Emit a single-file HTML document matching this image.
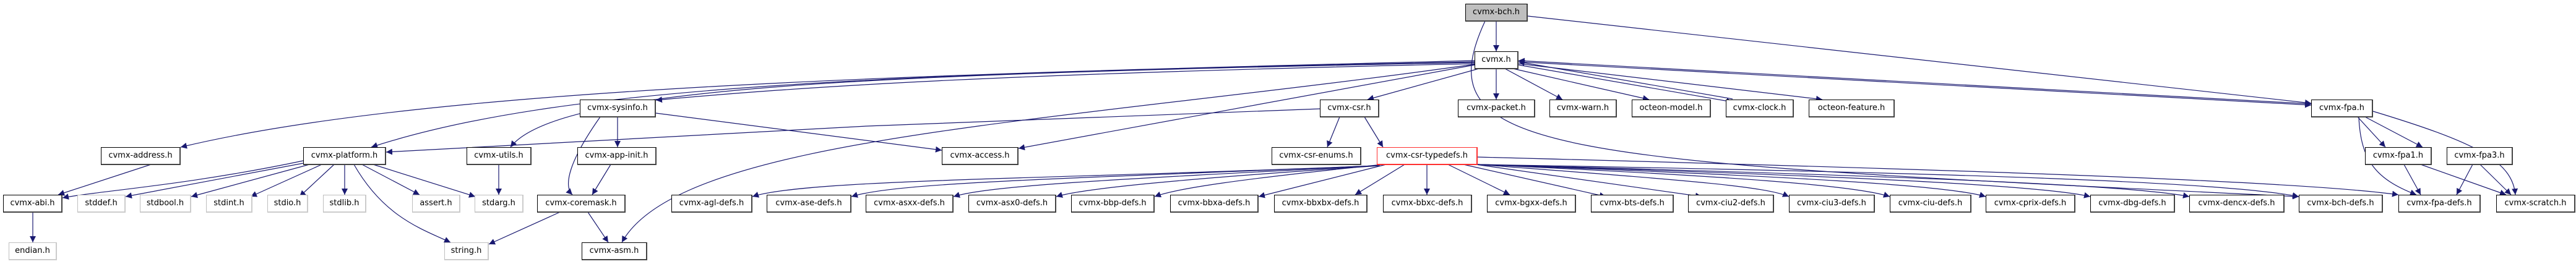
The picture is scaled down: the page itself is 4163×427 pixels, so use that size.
<!DOCTYPE html>
<html><head><meta charset="utf-8"><style>
html,body{margin:0;padding:0;background:#fff;width:4163px;height:427px;overflow:hidden;position:relative}
.n{position:absolute;box-sizing:border-box;background:#fff;border:1px solid #000;border-right:2px solid #444;border-bottom:2px solid #444;font:13px "DejaVu Sans","Liberation Sans",sans-serif;color:#000;text-align:center;line-height:26px;white-space:nowrap}
.g{border:1px solid #bfbfbf;border-right:2px solid #ccc;border-bottom:2px solid #ccc}
.r{border:1px solid #ff3030;border-right:2px solid #ff3030;border-bottom:2px solid #ff3030}
.root{background:#bfbfbf}
svg{position:absolute;left:0;top:0}
</style></head><body>
<svg width="4163" height="427" viewBox="0 0 4163 427">
<defs><marker id="a" viewBox="0 0 10 10" refX="10" refY="5" markerWidth="10" markerHeight="10" markerUnits="userSpaceOnUse" orient="auto"><path d="M0,0 L10,5 L0,10 z" fill="#191970"/></marker></defs>
<g fill="none" stroke="#191970" stroke-width="1.2" marker-end="url(#a)">
<path d="M2418,34 L2418,83"/>
<path d="M2469,26 L3735,167"/>
<path d="M2400,34 C2300,250 2500,260 3715,318"/>
<path d="M2383,98 C1500,120 700,140 292,238"/>
<path d="M2383,100 C1400,120 900,140 600,238"/>
<path d="M2383,101 C1400,120 900,140 825,238"/>
<path d="M2383,103 C1600,120 1300,140 1060,162"/>
<path d="M2383,104 C1700,200 1100,220 1005,392"/>
<path d="M2383,105 L1646,240"/>
<path d="M2390,111 L2210,161"/>
<path d="M2418,111 L2418,161"/>
<path d="M2432,111 L2525,161"/>
<path d="M2445,111 L2665,161"/>
<path d="M2454,105 L2800,165"/>
<path d="M2800,160 L2454,100"/>
<path d="M2454,103 L2945,161"/>
<path d="M2454,100 L3735,170"/>
<path d="M3735,168 L2454,98"/>
<path d="M998,189 L998,238"/>
<path d="M970,189 C920,260 910,300 925,315"/>
<path d="M1060,183 L1522,243"/>
<path d="M987,266 L957,315"/>
<path d="M2133,176 L1400,204 L624,246"/>
<path d="M2165,189 L2145,238"/>
<path d="M2205,189 L2235,238"/>
<path d="M244,266 L94,315"/>
<path d="M490,260 C300,300 150,310 101,320"/>
<path d="M490,264 L203,318"/>
<path d="M500,266 L309,318"/>
<path d="M520,266 L405,318"/>
<path d="M540,266 L484,318"/>
<path d="M557,266 L557,315"/>
<path d="M572,266 C620,350 680,370 728,392"/>
<path d="M585,266 L678,315"/>
<path d="M603,266 L768,318"/>
<path d="M806,266 L806,315"/>
<path d="M905,343 L790,395"/>
<path d="M950,343 L983,392"/>
<path d="M53,343 L53,392"/>
<path d="M2225,268 C1700,290 1300,290 1216,318"/>
<path d="M2225,268 C1700,290 1450,295 1376,318"/>
<path d="M2228,268 C1800,290 1600,300 1541,318"/>
<path d="M2230,268 C1900,290 1750,305 1707,318"/>
<path d="M2235,266 C2000,290 1900,305 1866,318"/>
<path d="M2240,266 L2034,318"/>
<path d="M2270,266 L2190,315"/>
<path d="M2306,266 L2306,315"/>
<path d="M2340,266 L2440,315"/>
<path d="M2365,266 L2595,318"/>
<path d="M2385,266 L2750,318"/>
<path d="M2388,266 C2700,290 2850,300 2891,318"/>
<path d="M2388,266 C2800,285 3000,300 3054,318"/>
<path d="M2388,266 C2900,285 3150,300 3209,318"/>
<path d="M2388,266 C3000,285 3300,300 3378,318"/>
<path d="M2388,266 C3100,285 3450,300 3538,318"/>
<path d="M2388,266 C3200,280 3600,295 3715,318"/>
<path d="M2388,254 C3000,270 3700,290 3876,315"/>
<path d="M3810,189 L3855,238"/>
<path d="M3822,189 L3915,238"/>
<path d="M3812,189 C3815,260 3840,290 3905,315"/>
<path d="M3835,180 C4000,230 4060,260 4065,315"/>
<path d="M3885,266 L3912,315"/>
<path d="M3912,266 L4050,315"/>
<path d="M3996,266 L3970,315"/>
<path d="M4008,266 L4058,315"/>
</g>
</svg>
<div class="n root" style="left:2368px;top:6px;width:101px;height:29px">cvmx-bch.h</div>
<div class="n" style="left:2383px;top:83px;width:71px;height:29px">cvmx.h</div>
<div class="n" style="left:937px;top:161px;width:123px;height:29px">cvmx-sysinfo.h</div>
<div class="n" style="left:2133px;top:161px;width:96px;height:29px">cvmx-csr.h</div>
<div class="n" style="left:2356px;top:161px;width:125px;height:29px">cvmx-packet.h</div>
<div class="n" style="left:2504px;top:161px;width:109px;height:29px">cvmx-warn.h</div>
<div class="n" style="left:2637px;top:161px;width:128px;height:29px">octeon-model.h</div>
<div class="n" style="left:2789px;top:161px;width:110px;height:29px">cvmx-clock.h</div>
<div class="n" style="left:2923px;top:161px;width:139px;height:29px">octeon-feature.h</div>
<div class="n" style="left:3735px;top:161px;width:100px;height:29px">cvmx-fpa.h</div>
<div class="n" style="left:163px;top:238px;width:129px;height:29px">cvmx-address.h</div>
<div class="n" style="left:490px;top:238px;width:134px;height:29px">cvmx-platform.h</div>
<div class="n" style="left:754px;top:238px;width:105px;height:29px">cvmx-utils.h</div>
<div class="n" style="left:933px;top:238px;width:128px;height:29px">cvmx-app-init.h</div>
<div class="n" style="left:1522px;top:238px;width:124px;height:29px">cvmx-access.h</div>
<div class="n" style="left:2055px;top:238px;width:145px;height:29px">cvmx-csr-enums.h</div>
<div class="n r" style="left:2225px;top:238px;width:163px;height:29px">cvmx-csr-typedefs.h</div>
<div class="n" style="left:3822px;top:238px;width:108px;height:29px">cvmx-fpa1.h</div>
<div class="n" style="left:3954px;top:238px;width:107px;height:29px">cvmx-fpa3.h</div>
<div class="n" style="left:5px;top:315px;width:96px;height:29px">cvmx-abi.h</div>
<div class="n g" style="left:125px;top:315px;width:78px;height:29px">stddef.h</div>
<div class="n g" style="left:226px;top:315px;width:83px;height:29px">stdbool.h</div>
<div class="n g" style="left:333px;top:315px;width:75px;height:29px">stdint.h</div>
<div class="n g" style="left:432px;top:315px;width:66px;height:29px">stdio.h</div>
<div class="n g" style="left:522px;top:315px;width:70px;height:29px">stdlib.h</div>
<div class="n g" style="left:666px;top:315px;width:78px;height:29px">assert.h</div>
<div class="n g" style="left:767px;top:315px;width:79px;height:29px">stdarg.h</div>
<div class="n" style="left:868px;top:315px;width:143px;height:29px">cvmx-coremask.h</div>
<div class="n" style="left:1085px;top:315px;width:131px;height:29px">cvmx-agl-defs.h</div>
<div class="n" style="left:1239px;top:315px;width:137px;height:29px">cvmx-ase-defs.h</div>
<div class="n" style="left:1399px;top:315px;width:142px;height:29px">cvmx-asxx-defs.h</div>
<div class="n" style="left:1565px;top:315px;width:142px;height:29px">cvmx-asx0-defs.h</div>
<div class="n" style="left:1731px;top:315px;width:135px;height:29px">cvmx-bbp-defs.h</div>
<div class="n" style="left:1891px;top:315px;width:143px;height:29px">cvmx-bbxa-defs.h</div>
<div class="n" style="left:2059px;top:315px;width:151px;height:29px">cvmx-bbxbx-defs.h</div>
<div class="n" style="left:2235px;top:315px;width:144px;height:29px">cvmx-bbxc-defs.h</div>
<div class="n" style="left:2403px;top:315px;width:144px;height:29px">cvmx-bgxx-defs.h</div>
<div class="n" style="left:2571px;top:315px;width:134px;height:29px">cvmx-bts-defs.h</div>
<div class="n" style="left:2728px;top:315px;width:139px;height:29px">cvmx-ciu2-defs.h</div>
<div class="n" style="left:2891px;top:315px;width:139px;height:29px">cvmx-ciu3-defs.h</div>
<div class="n" style="left:3054px;top:315px;width:132px;height:29px">cvmx-ciu-defs.h</div>
<div class="n" style="left:3209px;top:315px;width:145px;height:29px">cvmx-cprix-defs.h</div>
<div class="n" style="left:3378px;top:315px;width:137px;height:29px">cvmx-dbg-defs.h</div>
<div class="n" style="left:3538px;top:315px;width:154px;height:29px">cvmx-dencx-defs.h</div>
<div class="n" style="left:3715px;top:315px;width:136px;height:29px">cvmx-bch-defs.h</div>
<div class="n" style="left:3876px;top:315px;width:133px;height:29px">cvmx-fpa-defs.h</div>
<div class="n" style="left:4034px;top:315px;width:128px;height:29px">cvmx-scratch.h</div>
<div class="n g" style="left:14px;top:392px;width:78px;height:29px">endian.h</div>
<div class="n g" style="left:718px;top:392px;width:72px;height:29px">string.h</div>
<div class="n" style="left:940px;top:392px;width:106px;height:29px">cvmx-asm.h</div>
</body></html>
